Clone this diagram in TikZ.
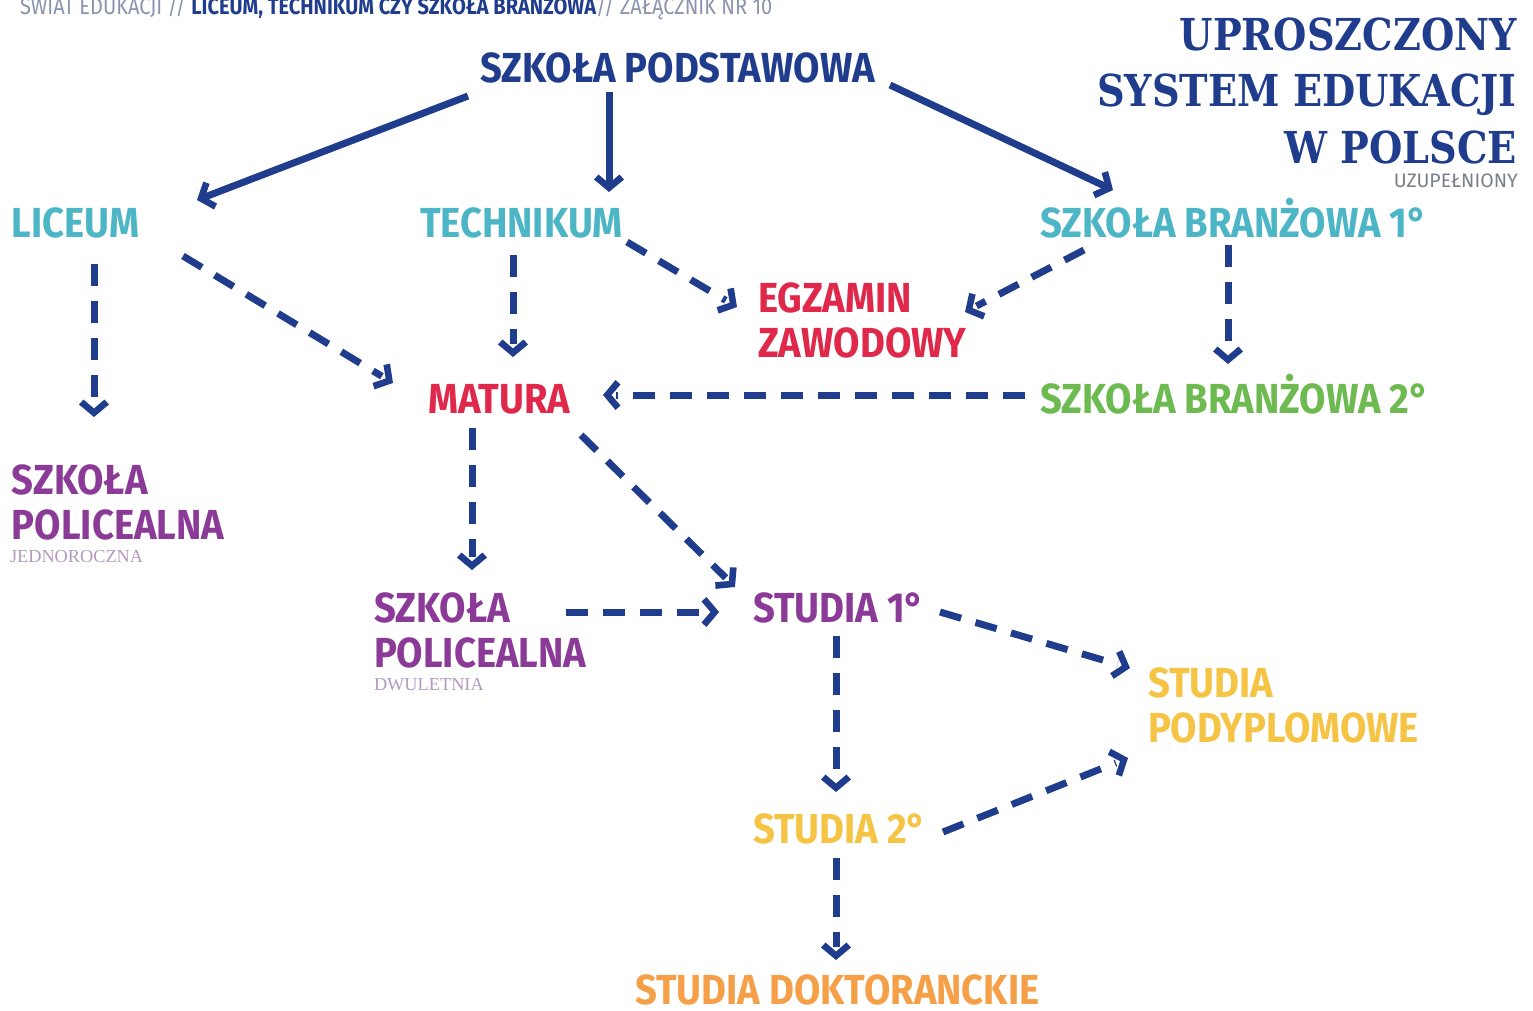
\documentclass[tikz,border=0pt]{standalone}
\usepackage{fontspec}
\usetikzlibrary{decorations.markings}
\setmainfont{Fira Sans}
\newfontfamily\fira{Fira Sans}[FakeStretch=0.91]
\newfontfamily\firareg{Fira Sans}
\newfontfamily\firacond{Fira Sans}[FakeStretch=0.87]
\newfontfamily\titleserif{DejaVu Serif}[FakeStretch=0.87]
\newfontfamily\smallserif{Liberation Serif}
\definecolor{navy}{HTML}{1F3D8C}
\definecolor{teal}{HTML}{4DB6C6}
\definecolor{exred}{HTML}{E0284B}
\definecolor{green2}{HTML}{6DBA50}
\definecolor{purple2}{HTML}{8B3A97}
\definecolor{yellow2}{HTML}{F6C445}
\definecolor{orange2}{HTML}{F5A048}
\definecolor{lilac}{HTML}{B49AC0}
\definecolor{graytxt}{HTML}{7A7F8A}
\definecolor{headgray}{HTML}{8A93B0}
\tikzset{
  lbl/.style={inner sep=0pt, outer sep=0pt, anchor=base west,
    font=\fira\bfseries\fontsize{42}{45}\selectfont},
  subl/.style={inner sep=0pt, outer sep=0pt, anchor=base west, text=lilac,
    font=\smallserif\fontsize{18.3}{20}\selectfont},
  chev/.style={postaction={decorate, decoration={markings,
    mark=at position 1 with {\fill[navy, draw=none]
      (0pt,0pt) -- (-12.5pt,-15pt) -- (-17.5pt,-10.5pt) -- (-8.5pt,0pt)
      -- (-17.5pt,10.5pt) -- (-12.5pt,15pt) -- cycle;}}}},
  solidarr/.style={draw=navy, line width=7pt, shorten >=6pt, chev},
  dasharr/.style={draw=navy, line width=7pt, shorten >=13pt, chev,
    dash pattern=on 22pt off 15pt}
}
\begin{document}
\begin{tikzpicture}[x=1pt,y=-1pt]
\useasboundingbox (0,0) rectangle (1533,1010);
\fill[white] (0,0) rectangle (1533,1010);

% header
\node[inner sep=0pt, anchor=base west, font=\firacond\fontsize{23}{24}\selectfont] (head) at (20,14)
  {\textcolor{headgray}{ŚWIAT EDUKACJI // }\textcolor{navy}{\bfseries LICEUM, TECHNIKUM CZY SZKOŁA BRANŻOWA}\textcolor{headgray}{ // ZAŁĄCZNIK NR 10}};

% title
\node[inner sep=0pt, anchor=base east, text=navy,
  font=\titleserif\bfseries\fontsize{44}{56.5}\selectfont] (title) at (1517,50)
  {\begin{tabular}[t]{@{}r@{}}UPROSZCZONY\\SYSTEM EDUKACJI\\W POLSCE\end{tabular}};
\node[inner sep=0pt, anchor=base east, text=graytxt, font=\firareg\fontsize{19.5}{22}\selectfont] (uzup) at (1518,187) {UZUPEŁNIONY};

% nodes
\node[lbl, text=navy] (sp) at (480,82) {SZKOŁA PODSTAWOWA};
\node[lbl, text=teal] (lic) at (12,237) {LICEUM};
\node[lbl, text=teal] (tech) at (420,237) {TECHNIKUM};
\node[lbl, text=teal] (sb1) at (1040,237) {SZKOŁA BRANŻOWA 1°};
\node[lbl, text=exred] (egz) at (758,312) {\begin{tabular}[t]{@{}l@{}}EGZAMIN\\ZAWODOWY\end{tabular}};
\node[lbl, text=exred] (mat) at (428,413) {MATURA};
\node[lbl, text=green2] (sb2) at (1040,413) {SZKOŁA BRANŻOWA 2°};
\node[lbl, text=purple2] (sp1) at (12,494) {\begin{tabular}[t]{@{}l@{}}SZKOŁA\\POLICEALNA\end{tabular}};
\node[subl] (jedno) at (10,562) {JEDNOROCZNA};
\node[lbl, text=purple2] (sp2) at (374,622) {\begin{tabular}[t]{@{}l@{}}SZKOŁA\\POLICEALNA\end{tabular}};
\node[subl] (dwu) at (374,690) {DWULETNIA};
\node[lbl, text=purple2] (st1) at (753,622) {STUDIA 1°};
\node[lbl, text=yellow2] (pod) at (1148,697) {\begin{tabular}[t]{@{}l@{}}STUDIA\\PODYPLOMOWE\end{tabular}};
\node[lbl, text=yellow2] (st2) at (753,843) {STUDIA 2°};
\node[lbl, text=orange2] (dok) at (635,1004) {STUDIA DOKTORANCKIE};

% solid arrows
\draw[solidarr] ([shift={(-12,14)}]sp.base west) -- ([shift={(185,-37)}]lic.base west);
\draw[solidarr] ([shift={(129,10)}]sp.base west) -- ([shift={(189,-45)}]tech.base west);
\draw[solidarr] ([shift={(410,3)}]sp.base west) -- ([shift={(73,-47)}]sb1.base west);

% dashed arrows
\draw[dasharr] ([shift={(82,27)}]lic.base west) -- ([shift={(82,-77)}]sp1.base west);
\draw[dasharr] ([shift={(171,19)}]lic.base west) -- ([shift={(-35,-30)}]mat.base west);
\draw[dasharr] ([shift={(93,18)}]tech.base west) -- ([shift={(85,-56)}]mat.base west);
\draw[dasharr] ([shift={(207,5)}]tech.base west) -- ([shift={(-21,-5)}]egz.base west);
\draw[dasharr] ([shift={(44,13)}]sb1.base west) -- ([shift={(207,0)}]egz.base west);
\draw[dasharr] ([shift={(188,8)}]sb1.base west) -- ([shift={(188,-49)}]sb2.base west);
\draw[dasharr] ([shift={(-15,-18)}]sb2.base west) -- ([shift={(175,-18)}]mat.base west);
\draw[dasharr] ([shift={(44,15)}]mat.base west) -- ([shift={(98,-52)}]sp2.base west);
\draw[dasharr] ([shift={(153,22)}]mat.base west) -- ([shift={(-18,-35)}]st1.base west);
\draw[dasharr] ([shift={(192,-10)}]sp2.base west) -- ([shift={(-34,-10)}]st1.base west);
\draw[dasharr] ([shift={(187,-10)}]st1.base west) -- ([shift={(-18,-29)}]pod.base west);
\draw[dasharr] ([shift={(83,14)}]st1.base west) -- ([shift={(83,-51)}]st2.base west);
\draw[dasharr] ([shift={(190,-11)}]st2.base west) -- ([shift={(-20,61)}]pod.base west);
\draw[dasharr] ([shift={(83,15)}]st2.base west) -- ([shift={(201,-44)}]dok.base west);
\end{tikzpicture}
\end{document}
